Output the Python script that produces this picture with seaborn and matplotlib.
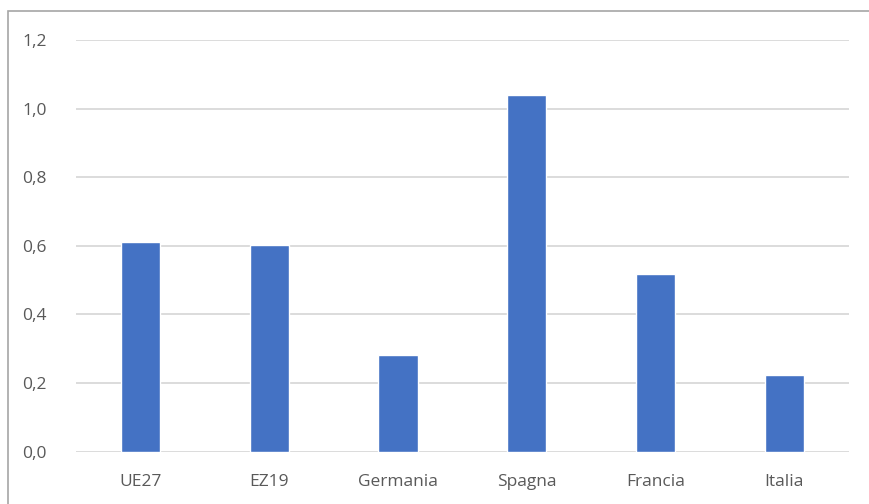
import matplotlib
matplotlib.use("Agg")
import matplotlib.pyplot as plt
import seaborn as sns
import pandas as pd
from matplotlib.patches import Rectangle
from matplotlib.ticker import FuncFormatter

categories = ["UE27", "EZ19", "Germania", "Spagna", "Francia", "Italia"]
values = [0.611, 0.603, 0.282, 1.039, 0.517, 0.224]
yticks = [0.0, 0.2, 0.4, 0.6, 0.8, 1.0, 1.2]

df = pd.DataFrame({"cat": categories, "val": values})

sns.set_theme(style="white")
plt.rcParams["font.family"] = ["Open Sans", "DejaVu Sans"]

W, H = 870, 504
fig = plt.figure(figsize=(W / 100, H / 100), dpi=100)
ax = fig.add_axes([76 / W, 1 - 451.7 / H, (848.7 - 76) / W, (451.7 - 40) / H])

sns.barplot(data=df, x="cat", y="val", color="#4472C4", saturation=1,
            width=0.305, ax=ax, zorder=3)

ax.set_ylim(0, 1.2)
ax.set_xlim(-0.5, 5.5)
ax.set_yticks(yticks)
ax.yaxis.set_major_formatter(FuncFormatter(lambda v, p: f"{v:.1f}".replace(".", ",")))
ax.grid(axis="y", color="#D9D9D9", linewidth=1.3, zorder=0)
ax.set_axisbelow(True)
for s in ax.spines.values():
    s.set_visible(False)
ax.set_xlabel("")
ax.set_ylabel("")
ax.tick_params(axis="both", length=0, labelsize=12.5, labelcolor="#595959")
ax.tick_params(axis="y", pad=21)
ax.tick_params(axis="x", pad=16)

fig.patches.append(Rectangle((8 / W, -0.1), 1.2, 1.1 - 11 / H, transform=fig.transFigure,
                             fill=False, edgecolor="#A6A6A6", linewidth=1.2))

fig.savefig("out.png", dpi=100)
